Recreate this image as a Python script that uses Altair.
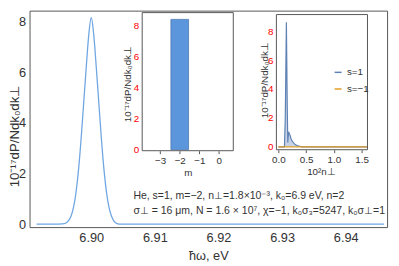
import altair as alt
import pandas as pd

# ---- main curve (photon energy, eV) vs spectral density ----
main_x = [6.8914, 6.8940, 6.8955, 6.8962, 6.8968, 6.8972, 6.8976, 6.8980, 6.8984,
          6.8988, 6.8992, 6.8996, 6.9000, 6.9004, 6.9008, 6.9012, 6.9016, 6.9020,
          6.9024, 6.9028, 6.9032, 6.9038, 6.9045, 6.9100, 6.9200, 6.9300, 6.9460]
main_y = [0.0, 0.0, 0.01, 0.08, 0.30, 0.65, 1.25, 2.15, 3.35,
          4.75, 6.15, 7.45, 8.15, 7.45, 6.15, 4.75, 3.35, 2.15,
          1.25, 0.65, 0.30, 0.06, 0.0, 0.0, 0.0, 0.0, 0.0]

# ---- inset 1: distribution over m ----
m_vals = [-2]
m_power = [8.45]

# ---- inset 2: distribution over 10^2 n_perp ----
nperp_s1 = [0.0, 0.11, 0.125, 0.145, 0.16, 0.17, 0.185, 0.2, 0.215, 0.23, 0.25,
            0.27, 0.29, 0.32, 0.35, 0.39, 0.44, 1.6]
power_s1 = [0.0, 0.0, 2.0, 8.7, 3.0, 0.3, 1.05, 0.9, 0.75, 0.55, 0.4,
            0.3, 0.2, 0.12, 0.07, 0.03, 0.0, 0.0]
nperp_sm1 = [0.0, 1.6]
power_sm1 = [0.0, 0.0]
series_names = ["s=1", "s=\u22121"]
series_colors = ["#5e81b5", "#e19c24"]

main_xticks = [6.90, 6.91, 6.92, 6.93, 6.94]
main_yticks = [0, 2, 4, 6, 8]
in_yticks = [0, 2, 4, 6, 8]
in1_xticks = [-3, -2, -1, 0]
in2_xticks = [0.0, 0.5, 1.0, 1.5]

ylab = "10\u207b\u00b9\u2077dP/Ndk\u2080dk\u22a5"
ann1 = "He, s=1, m=\u22122, n\u22a5=1.8\u00d710\u207b\u00b3, k\u2080=6.9 eV, n=2"
ann2 = "\u03c3\u22a5 = 16 \u03bcm, N = 1.6 \u00d7 10\u2077, \u03c7=\u22121, k\u2080\u03c3\u2083=5247, k\u2080\u03c3\u22a5=1"
in1_xlab = "m"
in2_xlab = "10\u00b2n\u22a5"

W, H = 365, 221
FONT = "Liberation Sans"
TXT = "#333333"
FR = "#555555"

# inset placement (plot-area pixels)
in1_px = [115, 208, 2, 143]
in2_px = [252, 345, 4, 142]
in1_ydom = [-0.063, 8.89]
in2_ydom = [-0.205, 9.23]

df_main = pd.DataFrame({"x": main_x, "y": main_y})
df_m = pd.DataFrame({"m": m_vals, "p": m_power})
df_n = pd.DataFrame({
    "n": nperp_s1 + nperp_sm1,
    "p": power_s1 + power_sm1,
    "s": [series_names[0]] * len(nperp_s1) + [series_names[1]] * len(nperp_sm1),
})
df_yt = pd.DataFrame({"v": in_yticks})

main = alt.Chart(df_main).mark_line(color="#6ea6e2", strokeWidth=1.3, interpolate="monotone").encode(
    x=alt.X("x:Q", scale=alt.Scale(domain=[6.8903, 6.9465], nice=False, zero=False),
            axis=alt.Axis(orient="bottom", values=main_xticks, format=".2f", title="\u0127\u03c9, eV",
                          grid=False, ticks=False, domain=False, labelFontSize=13, labelPadding=5,
                          titleFontSize=13, titleFontWeight="normal", titleFont=FONT, labelFont=FONT,
                          labelColor=TXT, titleColor=TXT, titleY=29, titleBaseline="middle")),
    y=alt.Y("y:Q", scale=alt.Scale(domain=[-0.116, 8.425], nice=False, zero=False),
            axis=alt.Axis(orient="left", values=main_yticks, title=ylab, grid=False, ticks=False,
                          domain=False, labelFontSize=13, labelPadding=4, titleFontSize=13.5,
                          titleFontWeight="normal", titleFont=FONT, labelFont=FONT,
                          labelColor=TXT, titleColor=TXT, titleAngle=270, titleX=-15, titleY=128,
                          titleAlign="center", titleBaseline="middle")),
)


def label(txt, x, y, size=10.7, angle=0, align="left"):
    return alt.Chart(pd.DataFrame({"t": [txt]})).mark_text(
        align=align, baseline="middle", fontSize=size, font=FONT, color=TXT, angle=angle
    ).encode(text="t:N", x=alt.value(x), y=alt.value(y))


def ytick_labels(px, ydom):
    return alt.Chart(df_yt).mark_text(
        align="right", baseline="middle", fontSize=10, font=FONT, color="red"
    ).encode(
        x=alt.value(px[0] - 3),
        y=alt.Y("v:Q", scale=alt.Scale(domain=ydom, range=[px[3], px[2]], nice=False, zero=False), axis=None),
        text=alt.Text("v:Q", format="d"),
    )


t1 = label(ann1, 106, 189)
t2 = label(ann2, 106, 205)
in1_yt = label(ylab, 101, 75, 10, 270, "center")
in2_yt = label(ylab, 240, 71, 10, 270, "center")
in1_xt = label(in1_xlab, 162, 166, 10, 0, "center")
in2_xt = label(in2_xlab, 298, 165, 10, 0, "center")
in1_yl = ytick_labels(in1_px, in1_ydom)
in2_yl = ytick_labels(in2_px, in2_ydom)

frame1 = alt.Chart(pd.DataFrame({"a": [0]})).mark_rect(fillOpacity=0, stroke=FR, strokeWidth=1).encode(
    x=alt.value(in1_px[0]), x2=alt.value(in1_px[1]), y=alt.value(in1_px[2]), y2=alt.value(in1_px[3]))
frame2 = alt.Chart(pd.DataFrame({"a": [0]})).mark_rect(fillOpacity=0, stroke=FR, strokeWidth=1).encode(
    x=alt.value(in2_px[0]), x2=alt.value(in2_px[1]), y=alt.value(in2_px[2]), y2=alt.value(in2_px[3]))


def inset_xaxis(offset, values, fmt):
    return alt.Axis(orient="bottom", offset=offset, values=values, format=fmt, title=None,
                    gridOpacity=0, ticks=True, tickSize=3, tickColor=FR, domain=False,
                    labelFontSize=10, labelPadding=2, labelFont=FONT, labelColor=TXT, zindex=2)


inset1 = alt.Chart(df_m).mark_bar(size=18, color="#5b95dc", stroke="#4a78b0", strokeWidth=0.8).encode(
    x=alt.X("m:Q", scale=alt.Scale(domain=[-3.67, 0.49], range=[in1_px[0], in1_px[1]], nice=False, zero=False),
            axis=inset_xaxis(-(H - in1_px[3]), in1_xticks, ".0f")),
    y=alt.Y("p:Q", scale=alt.Scale(domain=in1_ydom, range=[in1_px[3], in1_px[2]], nice=False, zero=False),
            axis=None),
)

inset2 = alt.Chart(df_n).mark_area(line={"strokeWidth": 1.2}, fillOpacity=0.35, interpolate="linear").encode(
    x=alt.X("n:Q", scale=alt.Scale(domain=[-0.035, 1.606], range=[in2_px[0], in2_px[1]], nice=False, zero=False),
            axis=inset_xaxis(-(H - in2_px[3]), in2_xticks, ".1f")),
    y=alt.Y("p:Q", stack=None,
            scale=alt.Scale(domain=in2_ydom, range=[in2_px[3], in2_px[2]], nice=False, zero=False),
            axis=None),
    color=alt.Color("s:N", scale=alt.Scale(domain=series_names, range=series_colors),
                    legend=alt.Legend(orient="none", legendX=310, legendY=58, title=None,
                                      symbolType="stroke", symbolSize=50, symbolStrokeWidth=1.5,
                                      labelFontSize=10, labelFont=FONT, labelColor=TXT,
                                      rowPadding=7, labelOffset=4)),
    order=alt.Order("s:N"),
)

chart = alt.layer(main, inset1, inset2, in1_yl, in2_yl, t1, t2, in1_yt, in2_yt, in1_xt, in2_xt,
                  frame1, frame2).resolve_scale(
    x="independent", y="independent"
).properties(
    width=W, height=H, autosize=alt.AutoSizeParams(type="none"),
    padding={"left": 22, "top": 0, "right": 4, "bottom": 37},
).configure_view(stroke=FR, strokeWidth=1)

chart.save("out.html", embed_options={"renderer": "svg", "actions": False})
